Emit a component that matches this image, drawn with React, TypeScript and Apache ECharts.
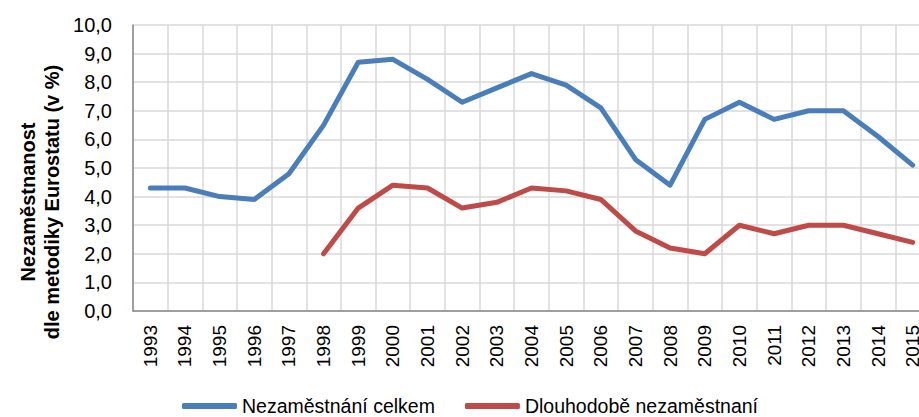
import React, { useEffect, useRef } from "react";
import * as echarts from "echarts";

const years = ["1993","1994","1995","1996","1997","1998","1999","2000","2001","2002","2003","2004","2005","2006","2007","2008","2009","2010","2011","2012","2013","2014","2015"];
const totalUnemployment = [4.3,4.3,4.0,3.9,4.8,6.5,8.7,8.8,8.1,7.3,7.8,8.3,7.9,7.1,5.3,4.4,6.7,7.3,6.7,7.0,7.0,6.1,5.1];
const longTermUnemployment = [null,null,null,null,null,2.0,3.6,4.4,4.3,3.6,3.8,4.3,4.2,3.9,2.8,2.2,2.0,3.0,2.7,3.0,3.0,2.7,2.4];
const seriesNames = ["Nezaměstnání celkem", "Dlouhodobě nezaměstnaní"];
const axisTitleLines = ["Nezaměstnanost", "dle metodiky Eurostatu (v %)"];

const FONT = "'Liberation Sans', Arial, sans-serif";

export default function App() {
  const ref = useRef<HTMLDivElement>(null);
  useEffect(() => {
    if (!ref.current) return;
    const chart = echarts.init(ref.current, null, { renderer: "svg" });
    chart.setOption({
      animation: false,
      backgroundColor: "#ffffff",
      textStyle: { fontFamily: FONT },
      grid: { left: 133, top: 25, bottom: 106, right: 0, containLabel: false },
      legend: {
        left: 177,
        top: 391,
        itemWidth: 55,
        itemHeight: 6,
        itemGap: 30,
        icon: "roundRect",
        textStyle: { fontFamily: FONT, fontSize: 19.5, color: "#000" },
        data: seriesNames,
      },
      xAxis: {
        type: "category",
        data: years,
        boundaryGap: true,
        axisLine: { lineStyle: { color: "#898989", width: 1.5 } },
        axisTick: { show: false },
        axisLabel: { rotate: 90, margin: 14, fontSize: 19, color: "#000", fontFamily: FONT, interval: 0 },
        splitLine: { show: true, interval: 0, lineStyle: { color: "#d9d9d9", width: 1.5 } },
      },
      yAxis: {
        type: "value",
        min: 0,
        max: 10,
        interval: 1,
        axisLine: { show: true, lineStyle: { color: "#898989", width: 1.5 } },
        axisTick: { show: false },
        axisLabel: {
          margin: 21,
          fontSize: 20,
          color: "#000",
          fontFamily: FONT,
          formatter: (v: number) => v.toFixed(1).replace(".", ","),
        },
        splitLine: { show: true, lineStyle: { color: "#d9d9d9", width: 1.5 } },
      },
      graphic: [
        {
          type: "text",
          x: 28,
          y: 202,
          rotation: Math.PI / 2,
          style: {
            text: axisTitleLines[0],
            fontFamily: FONT,
            fontSize: 20,
            fontWeight: "bold",
            fill: "#000",
            textAlign: "center",
            textVerticalAlign: "middle",
          },
        },
        {
          type: "text",
          x: 52,
          y: 202,
          rotation: Math.PI / 2,
          style: {
            text: axisTitleLines[1],
            fontFamily: FONT,
            fontSize: 20,
            fontWeight: "bold",
            fill: "#000",
            textAlign: "center",
            textVerticalAlign: "middle",
          },
        },
      ],
      series: [
        {
          name: seriesNames[0],
          type: "line",
          data: totalUnemployment,
          symbol: "none",
          lineStyle: { color: "#4a7ebb", width: 5, cap: "round", join: "round" },
          itemStyle: { color: "#4a7ebb" },
        },
        {
          name: seriesNames[1],
          type: "line",
          data: longTermUnemployment,
          symbol: "none",
          lineStyle: { color: "#be4b48", width: 5, cap: "round", join: "round" },
          itemStyle: { color: "#be4b48" },
        },
      ],
    });
    return () => chart.dispose();
  }, []);
  return (
    <div style={{ position: "fixed", left: 0, top: 0, width: 919, height: 417, overflow: "hidden", background: "#fff" }}>
      <div ref={ref} style={{ width: 930, height: 417 }} />
    </div>
  );
}
